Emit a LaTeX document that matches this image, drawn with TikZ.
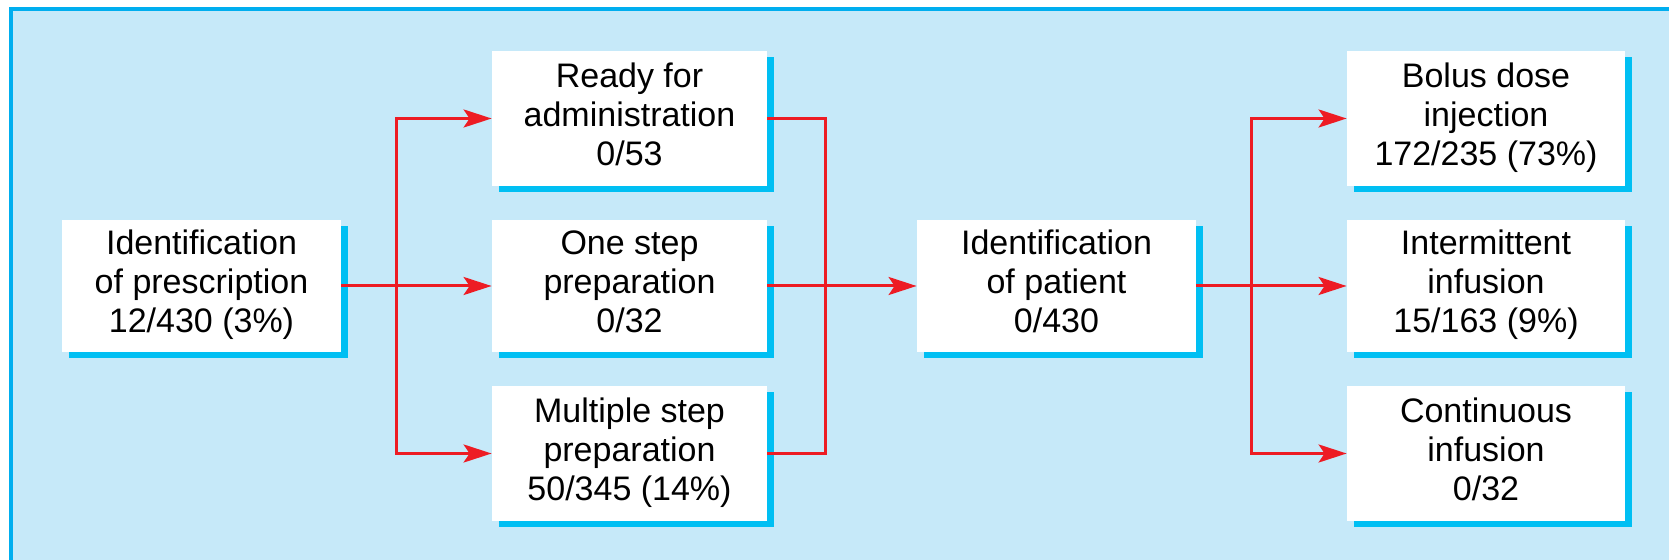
\documentclass[tikz,border=0pt]{standalone}
\usepackage{fontspec}
\setmainfont{Liberation Sans}
\usetikzlibrary{arrows.meta,shadows}
\definecolor{bgblue}{RGB}{198,233,249}
\definecolor{frameblue}{RGB}{0,174,239}
\definecolor{shadowblue}{RGB}{0,191,243}
\definecolor{linered}{RGB}{237,28,36}
\newcommand\tst{\rule{0pt}{13pt}}
\newcommand\bst{\rule[-5pt]{0pt}{5pt}}
\begin{document}
\begin{tikzpicture}[x=0.5pt,y=-0.5pt,
  box/.style={fill=white, inner sep=0pt, align=center,
    font=\fontsize{17pt}{19.5pt}\selectfont,
    drop shadow={shadow xshift=3.5pt, shadow yshift=-3pt, fill=shadowblue, opacity=1}},
  wide/.style={minimum width=139.5pt, minimum height=66pt},
  mid/.style={minimum width=137.5pt, minimum height=67.5pt},
  midc/.style={minimum width=137.5pt, minimum height=66pt},
  rgt/.style={minimum width=139pt, minimum height=67.5pt},
  rgtc/.style={minimum width=139pt, minimum height=66pt},
  conn/.style={draw=linered, line width=1.5pt},
  arr/.style={conn, -{Stealth[length=14pt, width=9pt, inset=3pt]}}
]
\useasboundingbox (0,0) rectangle (1669,560);
\fill[bgblue] (11,9.5) rectangle (1669,560);
\draw[frameblue, line width=2pt] (11,562) -- (11,9.5) -- (1671,9.5);

\node[box, wide] (pres) at (201.5,286) {\tst Identification\\of prescription\\12/430 (3\%)\bst};
\node[box, mid] (ready) at (629.5,118.5) {\tst Ready for\\administration\\0/53\bst};
\node[box, midc] (one) at (629.5,286) {\tst One step\\preparation\\0/32\bst};
\node[box, mid] (multi) at (629.5,453.5) {\tst Multiple step\\preparation\\50/345 (14\%)\bst};
\node[box, wide] (patient) at (1056.5,286) {\tst Identification\\of patient\\0/430\bst};
\node[box, rgt] (bolus) at (1486,118.5) {\tst Bolus dose\\injection\\172/235 (73\%)\bst};
\node[box, rgtc] (inter) at (1486,286) {\tst Intermittent\\infusion\\15/163 (9\%)\bst};
\node[box, rgt] (cont) at (1486,453.5) {\tst Continuous\\infusion\\0/32\bst};

\coordinate (j1) at (396,286);
\coordinate (j2) at (825,286);
\coordinate (j3) at (1251,286);

\draw[conn] (pres.east) -- (j1);
\draw[arr] (j1) |- (ready.west);
\draw[arr] (j1) -- (one.west);
\draw[arr] (j1) |- (multi.west);

\draw[conn] (ready.east) -| (j2);
\draw[conn] (multi.east) -| (j2);
\draw[conn] (one.east) -- (j2);
\draw[arr] (j2) -- (patient.west);

\draw[conn] (patient.east) -- (j3);
\draw[arr] (j3) |- (bolus.west);
\draw[arr] (j3) -- (inter.west);
\draw[arr] (j3) |- (cont.west);
\end{tikzpicture}
\end{document}
